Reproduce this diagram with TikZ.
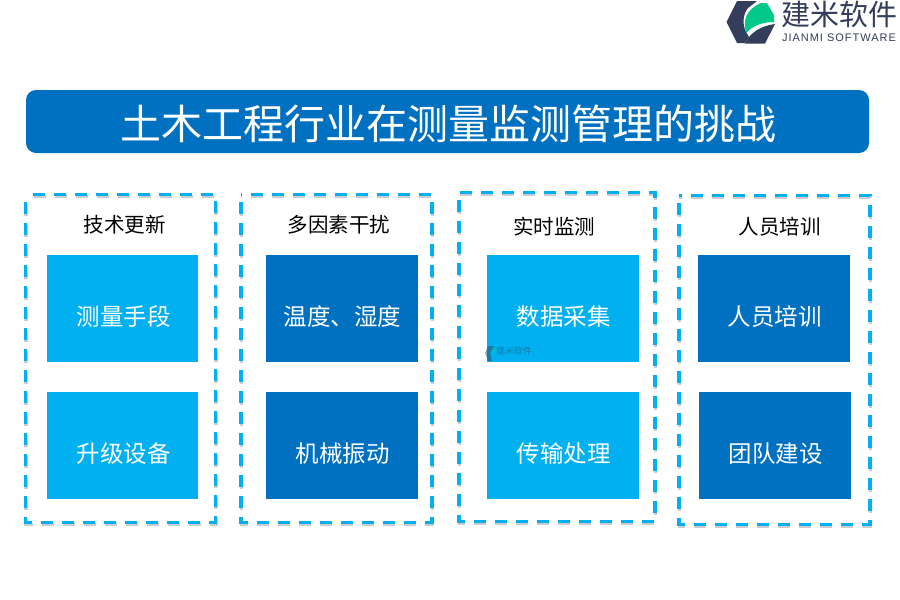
\documentclass[tikz,border=0pt]{standalone}
\usepackage{xcolor}
\usepackage{fontspec}
\usepackage{tikz}
\usetikzlibrary{positioning}
\setmainfont{Liberation Sans}
\newfontfamily\cjk{Noto Sans CJK SC}
\newfontfamily\logolatin[LetterSpace=9]{Liberation Sans}
\definecolor{barblue}{HTML}{0070C0}
\definecolor{lightblue}{HTML}{00B0F0}
\definecolor{logodark}{HTML}{333D5C}
\definecolor{logogreen}{HTML}{00C98A}

\begin{document}
\begin{tikzpicture}[
  x=1pt, y=-1pt,
  titlebar/.style={fill=barblue, rounded corners=10pt, minimum width=843pt, minimum height=63pt, outer sep=0pt},
  frame/.style={minimum height=328pt, outer sep=0pt},
  frameline/.style={draw=lightblue, line width=3.4pt, dash pattern=on 12pt off 9pt, dash phase=13pt},
  frameshade/.style={frameline, draw=black!20},
  heading/.style={text=black, font=\cjk\fontsize{20.5}{20.5}\selectfont},
  lightbox/.style={fill=lightblue, minimum width=152pt, minimum height=107pt, outer sep=0pt},
  darkbox/.style={lightbox, fill=barblue},
  boxtext/.style={text=white, font=\cjk\fontsize{23.5}{23.5}\selectfont},
  node distance=30pt
]
\useasboundingbox (0,0) rectangle (900,600);

% logo
\fill[logodark] (726.5,22) -- (737,1) -- (757,1) -- (748,8) .. controls (743,14) and (742,24) .. (746,32) -- (749,37) -- (745,43) -- (737,43) -- cycle;
\fill[logogreen] (746.5,33) .. controls (742,22) and (746,9) .. (761,3) -- (767,3) -- (774,15) -- (774,22) .. controls (762,22) and (752,26) .. (746.5,33) -- cycle;
\fill[logodark] (745,43.5) .. controls (750,33) and (760,26) .. (775,24) -- (765,43.5) -- cycle;
\node[text=logodark, font=\cjk\fontsize{29}{29}\selectfont] (logotext) at (839.5,14) {建米软件};
\node[text=logodark, font=\logolatin\fontsize{11}{11}\selectfont] (logosub) at (839,38) {JIANMI SOFTWARE};

\node[titlebar] (title) at (447.5,121.5) {};
\node[text=white, font=\cjk\fontsize{41}{41}\selectfont] (titletext) at (448.5,123.5) {土木工程行业在测量监测管理的挑战};

% frames
\node[frame, minimum width=190pt] (frameA) at (120.3,358.3) {};
\node[frame, minimum width=191pt] (frameB) at (336.3,358.3) {};
\node[frame, minimum width=196pt, minimum height=329pt] (frameC) at (556.8,356.8) {};
\node[frame, minimum width=191pt, minimum height=329pt] (frameD) at (774.3,359.8) {};
\draw[frameshade] ([xshift=0.5pt,yshift=-2pt]frameA.north west) rectangle ([xshift=0.5pt,yshift=-2pt]frameA.south east);
\draw[frameshade] ([xshift=0.5pt,yshift=-2pt]frameB.north west) rectangle ([xshift=0.5pt,yshift=-2pt]frameB.south east);
\draw[frameshade] ([xshift=0.5pt,yshift=-2pt]frameC.north west) rectangle ([xshift=0.5pt,yshift=-2pt]frameC.south east);
\draw[frameshade] ([xshift=0.5pt,yshift=-2pt]frameD.north west) rectangle ([xshift=0.5pt,yshift=-2pt]frameD.south east);
\draw[frameline] (frameA.north west) rectangle (frameA.south east);
\draw[frameline] (frameB.north west) rectangle (frameB.south east);
\draw[frameline] (frameC.north west) rectangle (frameC.south east);
\draw[frameline] (frameD.north west) rectangle (frameD.south east);

% group headings
\node[heading] (headA) at (124.5,225) {技术更新};
\node[heading] (headB) at (339,225) {多因素干扰};
\node[heading] (headC) at (554,227) {实时监测};
\node[heading] (headD) at (779.5,227) {人员培训};

% boxes
\node[lightbox, minimum width=151pt] (measure) at (122.5,308.5) {};
\node[lightbox, minimum width=151pt, below=of measure] (upgrade) {};
\node[darkbox] (humidity) at (342,308.5) {};
\node[darkbox, below=of humidity] (vibration) {};
\node[lightbox] (collect) at (563,308.5) {};
\node[lightbox, below=of collect] (transfer) {};
\node[darkbox] (training) at (774,308.5) {};
\node[darkbox, below=of training, xshift=1pt] (team) {};

% box labels
\node[boxtext] (measuretext) at (123.5,316.5) {测量手段};
\node[boxtext] (upgradetext) at (123.5,453.5) {升级设备};
\node[boxtext] (humiditytext) at (342.5,316.5) {温度、湿度};
\node[boxtext] (vibrationtext) at (342.5,453.5) {机械振动};
\node[boxtext] (collecttext) at (563.5,316.5) {数据采集};
\node[boxtext] (transfertext) at (563.5,453.5) {传输处理};
\node[boxtext] (trainingtext) at (774.5,316.5) {人员培训};
\node[boxtext] (teamtext) at (775.5,453.5) {团队建设};

% watermark
\begin{scope}[opacity=0.45]
\fill[logodark] (485,353) -- (488,346) -- (494,346) -- (490,353) -- (492,361) -- (488,361) -- cycle;
\fill[logogreen!70!lightblue] (491,355) .. controls (490,351) and (492,348) .. (496,347) -- (498,352) .. controls (495,352) and (493,353) .. (491,355) -- cycle;
\node[text=logodark, inner sep=0pt, font=\cjk\fontsize{9}{9}\selectfont] (marktext) at (514,351.5) {建米软件};
\end{scope}
\end{tikzpicture}
\end{document}
